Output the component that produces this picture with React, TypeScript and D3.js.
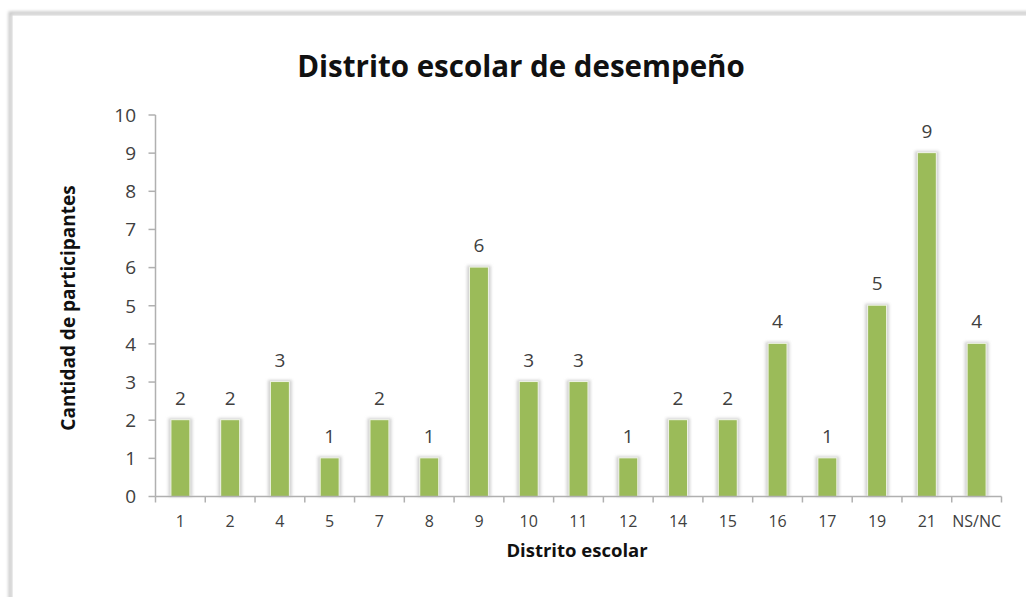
import React from "react";
import * as d3 from "d3";

const categories = ["1","2","4","5","7","8","9","10","11","12","14","15","16","17","19","21","NS/NC"];
const values = [2,2,3,1,2,1,6,3,3,1,2,2,4,1,5,9,4];
const yTicks = [0,1,2,3,4,5,6,7,8,9,10];
const title = "Distrito escolar de desempeño";
const xTitle = "Distrito escolar";
const yTitle = "Cantidad de participantes";

const W = 1026, H = 597;
const plot = { left: 155.5, right: 1001.5, top: 115, bottom: 496.5 };
const FONT = "'Open Sans', 'Noto Sans', sans-serif";

export default function App() {
  const x = d3.scaleBand<string>().domain(categories).range([plot.left, plot.right]).paddingInner(0.64).paddingOuter(0.32);
  const xTick = d3.scaleBand<string>().domain(categories).range([plot.left, plot.right]);
  const y = d3.scaleLinear().domain([0, 10]).range([plot.bottom, plot.top]);
  const bw = x.bandwidth();
  return (
    <svg width={W} height={H} style={{ position: "absolute", left: 0, top: 0, background: "#fff" }}>
      <defs>
        <filter id="sh" x="-50%" y="-10%" width="200%" height="120%">
          <feGaussianBlur stdDeviation="1.5" />
        </filter>
        <filter id="fr" x="-5%" y="-5%" width="110%" height="110%">
          <feGaussianBlur stdDeviation="1.5" />
        </filter>
      </defs>
      {/* frame with shadow */}
      <rect x={10} y={13} width={1040} height={620} fill="none" stroke="#c4c4c4" strokeWidth={3} filter="url(#fr)" />
      <rect x={12} y={15} width={1040} height={620} fill="#fff" stroke="#d6d6d6" strokeWidth={1} />
      <text x={521} y={77} textAnchor="middle" fontFamily={FONT} fontWeight={700} fontSize={29.5} fill="#111">{title}</text>
      {/* y axis */}
      <line x1={plot.left} x2={plot.left} y1={y(10)} y2={y(0)} stroke="#b0b0b0" strokeWidth={1.5} />
      {yTicks.map(t => (
        <g key={t}>
          <line x1={plot.left - 7} x2={plot.left} y1={y(t)} y2={y(t)} stroke="#b0b0b0" strokeWidth={1.5} />
          <text x={plot.left - 19.5} y={y(t)} dy="0.36em" textAnchor="end" fontFamily={FONT} fontSize={19} fill="#404040">{t}</text>
        </g>
      ))}
      {/* bars */}
      {categories.map((c, i) => {
        const bx = x(c)!;
        const by = y(values[i]);
        const bh = y(0) - by;
        return (
          <g key={c}>
            <rect x={bx - 3} y={by - 2} width={bw + 6} height={bh + 2} fill="#d0d0d0" filter="url(#sh)" />
            <rect x={bx - 1} y={by - 1} width={bw + 2} height={bh + 1} fill="#eef3e4" />
            <rect x={bx} y={by} width={bw} height={bh} fill="#9bbb59" />
            <text x={bx + bw / 2} y={by - 15.5} textAnchor="middle" fontFamily={FONT} fontSize={19} fill="#404040">{values[i]}</text>
          </g>
        );
      })}
      {/* x axis */}
      <line x1={plot.left} x2={plot.right} y1={y(0)} y2={y(0)} stroke="#b0b0b0" strokeWidth={1.5} />
      {categories.map(c => (
        <line key={"t" + c} x1={xTick(c)!} x2={xTick(c)!} y1={y(0)} y2={y(0) + 6} stroke="#b0b0b0" strokeWidth={1.5} />
      ))}
      <line x1={plot.right} x2={plot.right} y1={y(0)} y2={y(0) + 6} stroke="#b0b0b0" strokeWidth={1.5} />
      {categories.map(c => (
        <text key={"l" + c} x={xTick(c)! + xTick.bandwidth() / 2} y={526.5} textAnchor="middle" fontFamily={FONT} fontSize={16} fill="#404040">{c}</text>
      ))}
      <text x={577} y={557} textAnchor="middle" fontFamily={FONT} fontWeight={700} fontSize={18.5} fill="#111">{xTitle}</text>
      <text transform={`translate(75,308) rotate(-90)`} textAnchor="middle" fontFamily={FONT} fontWeight={700} fontSize={19} fill="#111">{yTitle}</text>
    </svg>
  );
}
